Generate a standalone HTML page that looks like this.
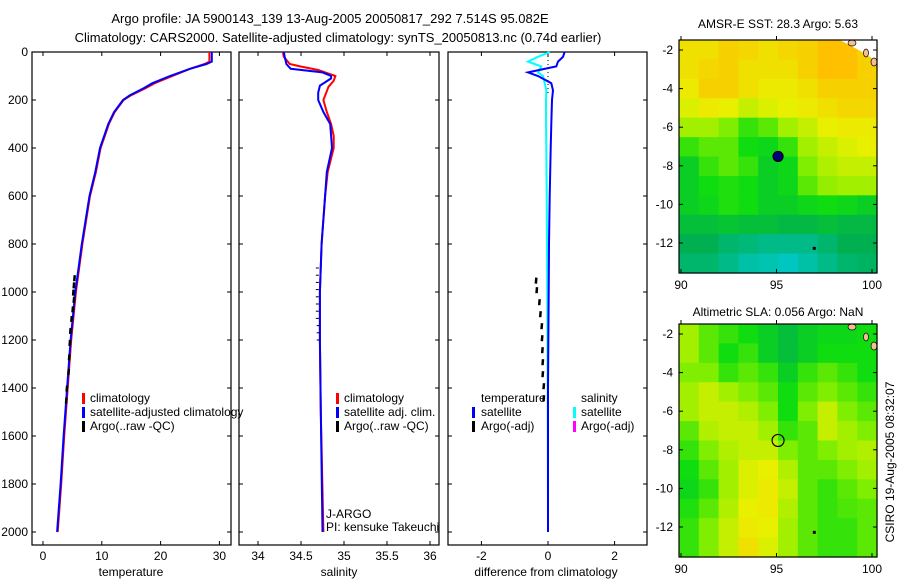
<!DOCTYPE html>
<html><head><meta charset="utf-8"><style>
body{margin:0;background:#fff;}
svg{display:block;font-family:"Liberation Sans",sans-serif;}
text{font-size:12px;fill:#000;}
</style></head><body>
<svg id="c" width="900" height="580" viewBox="0 0 900 580">
<text x="330" y="23" text-anchor="middle" style="font-size:13px">Argo profile: JA 5900143_139 13-Aug-2005 20050817_292 7.514S 95.082E</text>
<text x="338" y="42" text-anchor="middle" style="font-size:13px">Climatology: CARS2000. Satellite-adjusted climatology: synTS_20050813.nc (0.74d earlier)</text>
</svg>
<script>
// ---- data ----
const depthT = [0,40,50,70,100,130,150,180,200,250,300,400,500,600,800,1000,1200,1400,1600,1800,2000];
const tempClim = [28.3,28.3,27.5,25,22,19,17.5,15,13.7,12.2,11.2,9.8,9,8,6.7,5.6,4.8,4.2,3.6,3.1,2.5];
const tempSat = [28.7,28.7,27.8,25,21.6,18.6,17.2,14.8,13.6,12.1,11.1,9.7,8.9,7.9,6.6,5.5,4.7,4.1,3.5,3.0,2.4];
const argoTDepth = [930,960,990,1020,1060,1100,1150,1200,1260,1320,1390,1440];
const argoT = [5.4,5.3,5.2,5.3,5.1,4.9,4.7,4.6,4.5,4.4,4.1,4.0];
const depthS = [0,20,50,60,75,100,120,145,200,250,300,350,400,500,600,800,1000,1200,1500,2000];
const salClim = [34.29,34.3,34.37,34.49,34.7,34.9,34.88,34.82,34.76,34.8,34.85,34.88,34.88,34.81,34.78,34.74,34.72,34.72,34.73,34.76];
const depthS2 = [0,20,50,70,85,100,110,140,170,200,250,300,400,500,600,800,1000,1200,1500,2000];
const salSat = [34.3,34.31,34.33,34.38,34.75,34.85,34.85,34.72,34.7,34.7,34.76,34.84,34.86,34.8,34.78,34.74,34.72,34.72,34.73,34.75];
const argoSDepth = [900,930,960,990,1020,1050,1080,1110,1140,1170,1200];
const argoS = [34.69,34.69,34.69,34.69,34.69,34.69,34.69,34.69,34.7,34.7,34.7];
const depthD = [0,20,40,60,85,100,130,160,200,300,400,600,800,1000,1400,2000];
const dTemp = [0.5,0.45,0.3,0.25,-0.6,-0.3,0.1,0.15,0.12,0.1,0.08,0.05,0.03,0.02,0.0,0.0];
const dSal = [0.05,-0.3,-0.6,-0.2,-0.3,-0.15,-0.1,-0.05,-0.06,-0.06,-0.05,-0.04,-0.03,-0.02,-0.01,0.0];
const argoDDepth = [940,980,1030,1080,1130,1180,1230,1280,1330,1380,1430];
const argoD = [-0.35,-0.33,-0.25,-0.22,-0.18,-0.17,-0.16,-0.15,-0.15,-0.12,-0.12];
const depthTicks = [0,200,400,600,800,1000,1200,1400,1600,1800,2000];
const tempTicks = [0,10,20,30];
const salTicks = [34,34.5,35,35.5,36];
const diffTicks = [-2,0,2];
const latTicks = [-2,-4,-6,-8,-10,-12];
const lonTicks = [90,95,100];
const sstGrid = [
[0.75,0.75,0.8,0.78,0.75,0.78,0.8,0.85,0.85,0.8],
[0.75,0.78,0.8,0.75,0.75,0.75,0.8,0.85,0.85,0.8],
[0.72,0.8,0.8,0.75,0.72,0.72,0.75,0.8,0.8,0.8],
[0.68,0.72,0.7,0.65,0.68,0.7,0.72,0.75,0.78,0.78],
[0.6,0.6,0.55,0.45,0.5,0.6,0.65,0.7,0.72,0.72],
[0.45,0.5,0.5,0.4,0.38,0.45,0.6,0.65,0.68,0.7],
[0.35,0.45,0.5,0.45,0.35,0.38,0.55,0.62,0.65,0.65],
[0.35,0.4,0.42,0.4,0.35,0.38,0.5,0.58,0.6,0.6],
[0.35,0.38,0.42,0.4,0.35,0.35,0.38,0.4,0.38,0.35],
[0.3,0.3,0.32,0.3,0.3,0.28,0.28,0.3,0.28,0.28],
[0.25,0.25,0.2,0.18,0.15,0.15,0.15,0.2,0.25,0.25],
[0.2,0.2,0.15,0.1,0.08,0.05,0.1,0.15,0.2,0.22]];
const slaGrid = [
[0.6,0.5,0.45,0.4,0.35,0.3,0.35,0.38,0.38,0.4],
[0.6,0.5,0.4,0.45,0.35,0.3,0.35,0.4,0.4,0.4],
[0.55,0.55,0.45,0.5,0.45,0.35,0.45,0.5,0.45,0.4],
[0.6,0.65,0.6,0.55,0.5,0.4,0.5,0.55,0.5,0.45],
[0.6,0.65,0.65,0.62,0.55,0.4,0.55,0.65,0.55,0.5],
[0.5,0.62,0.65,0.65,0.6,0.45,0.5,0.65,0.6,0.55],
[0.45,0.55,0.62,0.65,0.65,0.55,0.5,0.55,0.6,0.62],
[0.4,0.5,0.6,0.68,0.7,0.62,0.5,0.5,0.55,0.6],
[0.38,0.45,0.6,0.68,0.72,0.65,0.5,0.45,0.5,0.55],
[0.42,0.5,0.62,0.7,0.72,0.62,0.5,0.45,0.48,0.5],
[0.45,0.55,0.65,0.72,0.7,0.6,0.5,0.45,0.45,0.5],
[0.45,0.55,0.65,0.75,0.68,0.6,0.5,0.45,0.45,0.5]];
const floatLon = 95.082, floatLat = -7.514;

// ---- helpers ----
const svg = document.getElementById('c');
const NS = 'http://www.w3.org/2000/svg';
function mk(tag, attrs, parent){const e=document.createElementNS(NS,tag);for(const k in attrs)e.setAttribute(k,attrs[k]);(parent||svg).appendChild(e);return e;}
const yD = d => 52 + d*0.24;
const xT = t => 43 + t*5.88;
const xS = s => 258 + (s-34)*86;
const xDf = v => 548 + v*33.3;

function frame(x0,x1,name){
  const r=mk('rect',{x:x0,y:52,width:x1-x0,height:493,fill:'none',stroke:'#000','stroke-width':1.2});
  
  
  depthTicks.forEach(d=>{mk('line',{x1:x0,x2:x0+4,y1:yD(d),y2:yD(d),stroke:'#000'});mk('line',{x1:x1-4,x2:x1,y1:yD(d),y2:yD(d),stroke:'#000'});});
}
function stepLine(xs,ds,xf,color,w,name){
  let p='';
  xs.forEach((v,i)=>{p+=(i?'L':'M')+xf(v).toFixed(1)+','+yD(ds[i]).toFixed(1);});
  const e=mk('path',{d:p,fill:'none',stroke:color,'stroke-width':w});
  
  
}
function dashes(xs,ds,xf,name){
  const g=mk('g',{});
  
  
  xs.forEach((v,i)=>{mk('line',{x1:xf(v),x2:xf(v)-0.5,y1:yD(ds[i]),y2:yD(ds[i])+6,stroke:'#000','stroke-width':2.5},g);});
}
function xticks(vals,xf,labelName){
  vals.forEach(v=>{
    mk('line',{x1:xf(v),x2:xf(v),y1:545,y2:541,stroke:'#000'});
    mk('line',{x1:xf(v),x2:xf(v),y1:52,y2:56,stroke:'#000'});
    const t=mk('text',{x:xf(v),y:560,'text-anchor':'middle'});
    t.textContent=String(v);
    
    
  });
}
function label(x,y,s,name,anchor){
  const t=mk('text',{x:x,y:y,'text-anchor':anchor||'start'});t.textContent=s;
  
  
  return t;
}
function legMark(x,y,color,name){
  const r=mk('rect',{x:x,y:y-10,width:3,height:11,fill:color});
  
  
}

// ---- panel 1 temperature ----
frame(32,231,'temperature-panel-frame');
depthTicks.forEach(d=>{label(28,yD(d)+4,String(d),'depth-tick-label','end');});
xticks(tempTicks,xT,'temperature-tick-label');
stepLine(tempClim,depthT,xT,'#ff0000',2,'temperature-climatology-line');
stepLine(tempSat,depthT,xT,'#0000ff',2,'temperature-satellite-line');
dashes(argoT,argoTDepth,xT,'temperature-argo-line');
label(131,576,'temperature','temperature-axis-title','middle');
legMark(82,403,'#ff0000','legend-climatology-mark');label(90,402,'climatology','legend-climatology');
legMark(82,417,'#0000ff','legend-satellite-mark');label(90,416,'satellite-adjusted climatology','legend-satellite-adjusted');
legMark(82,431,'#000','legend-argo-mark');label(90,430,'Argo(..raw -QC)','legend-argo');

// ---- panel 2 salinity ----
frame(239,439,'salinity-panel-frame');
xticks(salTicks,xS,'salinity-tick-label');
stepLine(salClim,depthS,xS,'#ff0000',2,'salinity-climatology-line');
stepLine(salSat,depthS2,xS,'#0000ff',2,'salinity-satellite-line');
{const g=mk('g',{});
argoS.forEach((v,i)=>mk('line',{x1:xS(v)-1.5,x2:xS(v)+1.5,y1:yD(argoSDepth[i]),y2:yD(argoSDepth[i]),stroke:'#000','stroke-width':1},g));}
label(339,576,'salinity','salinity-axis-title','middle');
legMark(336,403,'#ff0000','legend-sal-climatology-mark');label(344,402,'climatology','legend-sal-climatology');
legMark(336,417,'#0000ff','legend-sal-satellite-mark');label(344,416,'satellite adj. clim.','legend-sal-satellite');
legMark(336,431,'#000','legend-sal-argo-mark');label(344,430,'Argo(..raw -QC)','legend-sal-argo');
label(326,518,'J-ARGO','project-label');
label(326,531,'PI: kensuke Takeuchi','pi-label');

// ---- panel 3 difference ----
frame(448,647,'difference-panel-frame');
xticks(diffTicks,xDf,'difference-tick-label');
{const l=mk('line',{x1:548,x2:548,y1:52,y2:95,stroke:'#000','stroke-dasharray':'1,3'});}
stepLine(dSal,depthD,xDf,'#00ffff',2,'salinity-difference-line');
stepLine(dTemp,depthD,xDf,'#0000ff',2,'temperature-difference-line');
dashes(argoD,argoDDepth,xDf,'argo-difference-marks');
label(546,576,'difference from climatology','difference-axis-title','middle');
label(481,402,'temperature','legend-temperature-heading');
legMark(472,417,'#0000ff','legend-temp-satellite-mark');label(481,416,'satellite','legend-temp-satellite');
legMark(472,431,'#000','legend-temp-argo-mark');label(481,430,'Argo(-adj)','legend-temp-argo');
label(581,402,'salinity','legend-salinity-heading');
legMark(573,417,'#00ffff','legend-sal-sat-mark');label(581,416,'satellite','legend-sal-sat');
legMark(573,431,'#ff00ff','legend-sal-argoadj-mark');label(581,430,'Argo(-adj)','legend-sal-argoadj');

// ---- maps ----
const stops=[[0,[0,204,221]],[0.25,[0,176,80]],[0.4,[16,221,16]],[0.55,[128,238,0]],[0.7,[232,240,0]],[0.85,[255,192,0]],[1,[255,150,0]]];
function cmap(v){for(let i=1;i<stops.length;i++){if(v<=stops[i][0]){const a=stops[i-1],b=stops[i],f=(v-a[0])/(b[0]-a[0]);return 'rgb('+a[1].map((c,k)=>Math.round(c+(b[1][k]-c)*f)).join(',')+')';}}return 'rgb(255,150,0)';}
const mapX = lon => 681 + (lon-90)*19.1;
function drawMap(grid,top,bot,name,title,titleY,filled){
  const yL = lat => (top+10) + (-2-lat)*19.3;
  const g=mk('g',{});
  
  
  const rows=grid.length, cols=grid[0].length, cw=(877-679)/cols, ch=(bot-top)/rows;
  grid.forEach((row,r)=>row.forEach((v,c)=>{mk('rect',{x:679+c*cw,y:top+r*ch,width:cw+0.6,height:ch+0.6,fill:cmap(v)},g);}));
  if(filled) mk('polygon',{points:`840,${top} 877,${top} 877,${top+22} 866,${top+14}`,fill:'#fff'},g);
  mk('ellipse',{cx:852,cy:top+3,rx:4,ry:3,fill:'#f4c090',stroke:'#000','stroke-width':0.7},g);
  mk('ellipse',{cx:866,cy:top+13,rx:2.5,ry:4,fill:'#f4c090',stroke:'#000','stroke-width':0.7},g);
  mk('ellipse',{cx:874,cy:top+22,rx:3,ry:4,fill:'#f4c090',stroke:'#000','stroke-width':0.7},g);
  mk('rect',{x:679,y:top,width:198,height:bot-top,fill:'none',stroke:'#000','stroke-width':1.2},g);
  mk('rect',{x:mapX(96.9),y:yL(-12.2),width:3,height:3,fill:'#000'},g);
  latTicks.forEach(l=>{mk('line',{x1:679,x2:683,y1:yL(l),y2:yL(l),stroke:'#000'},g);mk('line',{x1:873,x2:877,y1:yL(l),y2:yL(l),stroke:'#000'},g);
    const t=mk('text',{x:673,y:yL(l)+4,'text-anchor':'end'},g);t.textContent=String(l);
    
    });
  lonTicks.forEach(l=>{mk('line',{x1:mapX(l),x2:mapX(l),y1:bot,y2:bot-4,stroke:'#000'},g);mk('line',{x1:mapX(l),x2:mapX(l),y1:top,y2:top-4,stroke:'#000'},g);
    const t=mk('text',{x:mapX(l),y:bot+16,'text-anchor':'middle'},g);t.textContent=String(l);
    
    });
  const c=mk('circle',{cx:mapX(floatLon),cy:yL(floatLat),r:filled?5:6,fill:filled?'#000080':'none',stroke:'#000','stroke-width':1.2},g);
  
  
  const tt=mk('text',{x:778,y:titleY,'text-anchor':'middle'});tt.textContent=title;
  
  
}
drawMap(sstGrid,40,273,'sst-map','AMSR-E SST: 28.3 Argo: 5.63',28,true);
drawMap(slaGrid,324,557,'sla-map','Altimetric SLA: 0.056 Argo: NaN',316,false);
{const t=mk('text',{x:0,y:0,transform:'translate(894,462) rotate(-90)','text-anchor':'middle'});t.textContent='CSIRO 19-Aug-2005 08:32:07';

}
</script>
</body></html>
